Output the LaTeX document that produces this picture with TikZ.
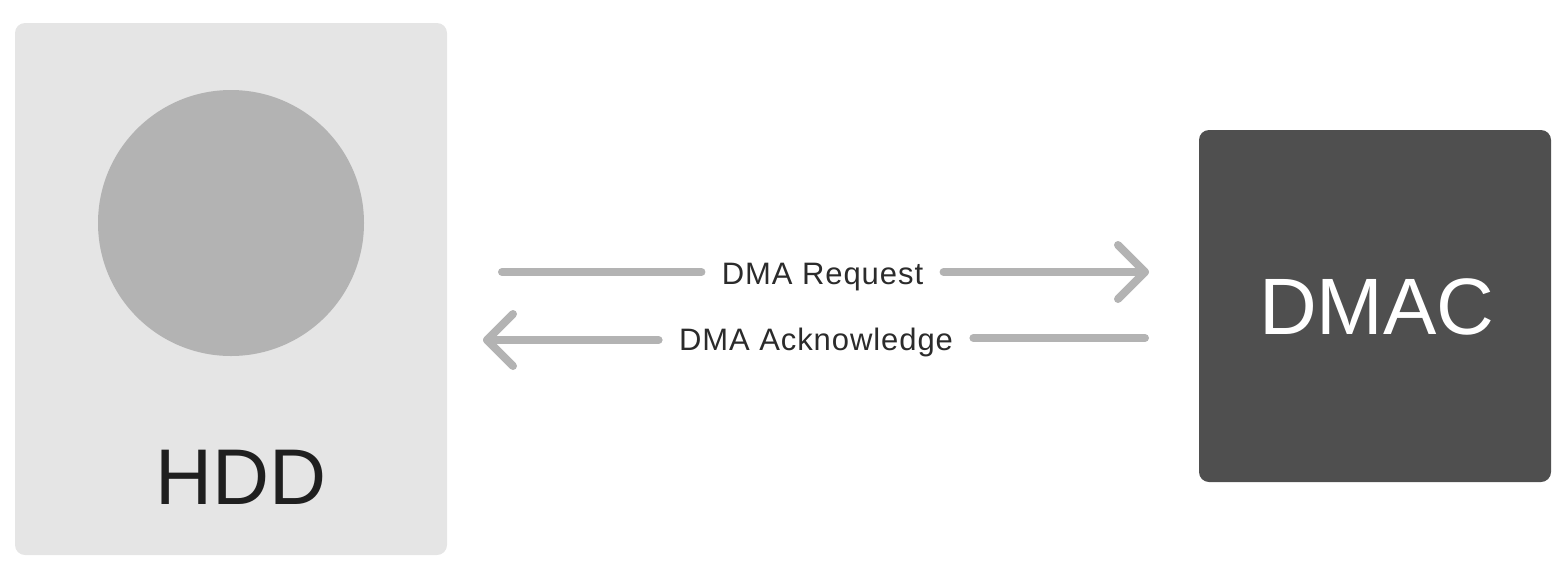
\documentclass[tikz,border=0pt]{standalone}
\usepackage{fontspec}
\setmainfont{Liberation Sans}
\usetikzlibrary{calc}
\definecolor{boxlight}{HTML}{E5E5E5}
\definecolor{disk}{HTML}{B3B3B3}
\definecolor{linegray}{HTML}{B3B3B3}
\definecolor{boxdark}{HTML}{4F4F4F}
\definecolor{textdark}{HTML}{1F1F1F}
\definecolor{labeltext}{HTML}{2B2B2B}
\begin{document}
\begin{tikzpicture}[x=0.5pt,y=-0.5pt,
  panel/.style={rounded corners=5pt, inner sep=0pt, draw=none},
  conn/.style={draw=linegray, line width=4pt, line cap=round, line join=round},
  lbl/.style={font=\fontsize{15.5}{17}\selectfont\addfontfeature{LetterSpace=3}, text=labeltext, inner sep=0pt, anchor=base},
]
\useasboundingbox (0,0) rectangle (1559,579);
% HDD
\node[panel, fill=boxlight, minimum width=216pt, minimum height=266pt] (hdd) at (231,289) {};
\node[circle, fill=disk, inner sep=0pt, minimum size=133pt] (disk) at (231,223) {};
\node[font=\fontsize{39.5}{44}\selectfont, text=textdark, inner sep=0pt, anchor=base] (hddlbl) at (241,504) {HDD};
% DMAC
\node[panel, fill=boxdark, minimum width=176pt, minimum height=176pt] (dmac) at (1375,306) {};
\node[font=\fontsize{40}{44}\selectfont, text=white, inner sep=0pt, anchor=base] (dmaclbl) at (1377,334) {DMAC};
% labels
\node[lbl] (req) at (822.5,284) {DMA Request};
\node[lbl] (ack) at (816,350) {DMA Acknowledge};
% endpoints
\coordinate (r1) at (502,272);
\coordinate (r2) at (1145,272);
\coordinate (k1) at (1145,338);
\coordinate (k2) at (487,340);
% request arrow
\draw[conn] (r1) -- ([xshift=-10pt]req.west |- r1);
\draw[conn] ([xshift=10pt]req.east |- r2) -- (r2);
\draw[conn] ($(r2)+(-27,-27)$) -- (r2) -- ($(r2)+(-27,27)$);
% acknowledge arrow
\draw[conn] (k1) -- ([xshift=10pt]ack.east |- k1);
\draw[conn] ([xshift=-10pt]ack.west |- k2) -- (k2);
\draw[conn] ($(k2)+(26,-26)$) -- (k2) -- ($(k2)+(26,26)$);
\end{tikzpicture}
\end{document}
